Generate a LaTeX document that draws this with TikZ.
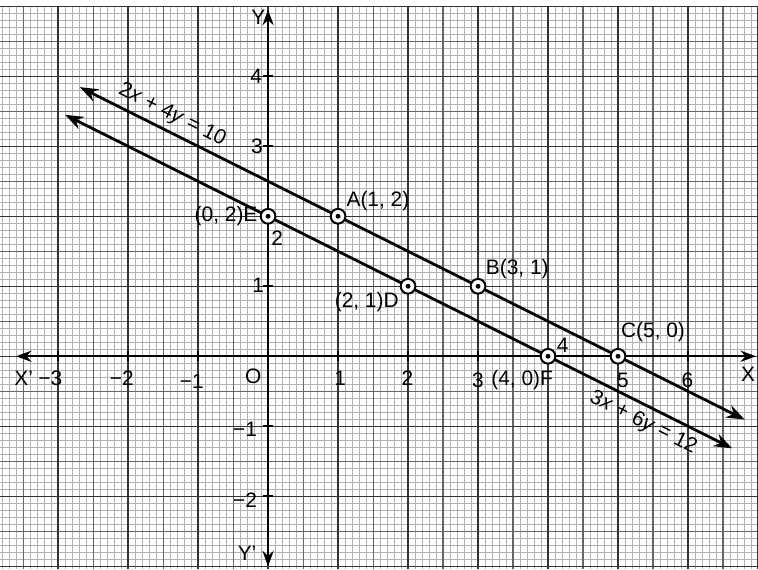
\documentclass[tikz,border=0pt]{standalone}
\usepackage{fontspec}
\setmainfont{Liberation Sans}
\usetikzlibrary{arrows.meta}

\begin{document}
\begin{tikzpicture}[>={Stealth[length=2.6mm, width=1.9mm]}, x=1cm, y=1cm,
    pt/.style={circle, draw, fill=white, line width=0.8pt, inner sep=0pt, minimum size=2.1mm,
        path picture={\fill[black] (path picture bounding box.center) circle (0.35mm);}},
    lbl/.style={font=\fontsize{8.5}{10}\selectfont, inner sep=0pt},
    axis/.style={line width=0.9pt, {Stealth[length=2.2mm, width=1.6mm]}-{Stealth[length=2.2mm, width=1.6mm]}},
    graphline/.style={line width=1.1pt, <->}]
        \useasboundingbox (-3.83,-3.04) rectangle (7.0,5.09);

        % Giấy kẻ ô
        \draw[gray!60, line width=0.25pt, step=0.1] (-3.83,-3.04) grid (7.0,5.0);
        \draw[black!60, line width=0.45pt, step=0.5] (-3.83,-3.04) grid (7.0,5.0);
        \draw[black!80, line width=0.6pt, step=1] (-3.83,-3.04) grid (7.0,5.0);

        % Hai trục tọa độ
        \coordinate (xl) at (-3.6,0);
        \coordinate (xr) at (6.97,0);
        \coordinate (yb) at (0,-3.0);
        \coordinate (yt) at (0,4.95);
        \draw[axis] (xl) -- (xr);
        \draw[axis] (yb) -- (yt);
        \foreach \i in {-3,...,6} \draw[line width=0.7pt] (\i,0.07) -- (\i,-0.07);
        \foreach \j in {-2,...,4} \draw[line width=0.7pt] (0.07,\j) -- (-0.07,\j);

        % Tên trục
        \node[lbl] (lX) at (6.86,-0.26) {X};
        \node[lbl] (lXp) at (-3.49,-0.31) {X'};
        \node[lbl] (lY) at (-0.14,4.84) {Y};
        \node[lbl] (lYp) at (-0.3,-2.81) {Y'};
        \node[lbl] (lO) at (-0.21,-0.29) {O};

        % Số trên trục x
        \node[lbl] (xm3) at (-3.11,-0.31) {−3};
        \node[lbl] (xm2) at (-2.09,-0.31) {−2};
        \node[lbl] (xm1) at (-1.09,-0.36) {−1};
        \node[lbl] (x1) at (1.03,-0.31) {1};
        \node[lbl] (x2) at (1.99,-0.31) {2};
        \node[lbl] (x3) at (3.0,-0.34) {3};
        \node[lbl] (x4) at (4.21,0.16) {4};
        \node[lbl] (x5) at (5.07,-0.34) {5};
        \node[lbl] (x6) at (5.99,-0.34) {6};

        % Số trên trục y
        \node[lbl] (y4) at (-0.17,4.0) {4};
        \node[lbl] (y3) at (-0.16,3.0) {3};
        \node[lbl] (y2) at (0.13,1.69) {2};
        \node[lbl] (y1) at (-0.14,1.01) {1};
        \node[lbl] (ym1) at (-0.33,-1.05) {−1};
        \node[lbl] (ym2) at (-0.33,-2.05) {−2};

        % Hai đường thẳng
        \coordinate (p1) at (-2.69,3.845);
        \coordinate (q1) at (6.81,-0.905);
        \coordinate (p2) at (-2.9,3.45);
        \coordinate (q2) at (6.63,-1.315);
        \draw[graphline] (p1) -- (q1);
        \draw[graphline] (p2) -- (q2);
        \node[lbl, rotate=-26.57] (eq1) at (-1.37,3.45) {2\textit{x} + 4\textit{y} = 10};
        \node[lbl, rotate=-26.57] (eq2) at (5.36,-0.95) {3\textit{x} + 6\textit{y} = 12};

        % Các điểm
        \node[pt] (A) at (1,2) {};
        \node[pt] (B) at (3,1) {};
        \node[pt] (C) at (5,0) {};
        \node[pt] (D) at (2,1) {};
        \node[pt] (E) at (0,2) {};
        \node[pt] (F) at (4,0) {};
        \node[lbl] (lA) at (1.57,2.21) {A(1, 2)};
        \node[lbl] (lB) at (3.56,1.24) {B(3, 1)};
        \node[lbl] (lC) at (5.5,0.35) {C(5, 0)};
        \node[lbl] (lD) at (1.41,0.78) {(2, 1)D};
        \node[lbl] (lE) at (-0.6,2.0) {(0, 2)E};
        \node[lbl] (lF) at (3.63,-0.34) {(4, 0)F};
\end{tikzpicture}
\end{document}
